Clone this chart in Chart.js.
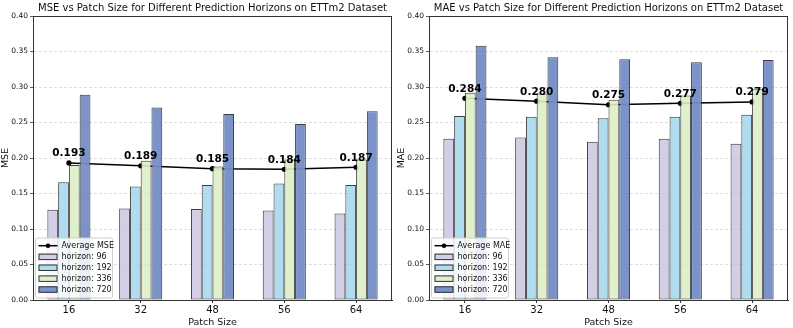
<!DOCTYPE html>
<html>
<head>
<meta charset="utf-8">
<script src="https://cdn.jsdelivr.net/npm/chart.js@4.4.1/dist/chart.umd.min.js"></script>
<style>
  body { margin: 0; background: #fff; }
  #left { position: absolute; left: 0; top: 0; width: 396px; height: 328px; }
  #right { position: absolute; left: 396px; top: 0; width: 397px; height: 328px; }
</style>
</head>
<body>
<div id="left"><canvas id="mseChart"></canvas></div>
<div id="right"><canvas id="maeChart"></canvas></div>
<script>
// Data
const patchSizes = ['16', '32', '48', '56', '64'];
const horizons = ['96', '192', '336', '720'];

const mse96  = [0.127, 0.129, 0.128, 0.126, 0.122];
const mse192 = [0.166, 0.160, 0.162, 0.164, 0.162];
const mse336 = [0.190, 0.196, 0.188, 0.198, 0.198];
const mse720 = [0.289, 0.271, 0.262, 0.248, 0.266];
const mseAvg = [0.193, 0.189, 0.185, 0.184, 0.187];

const mae96  = [0.227, 0.229, 0.223, 0.227, 0.220];
const mae192 = [0.259, 0.258, 0.256, 0.258, 0.261];
const mae336 = [0.292, 0.291, 0.282, 0.288, 0.297];
const mae720 = [0.358, 0.342, 0.339, 0.335, 0.338];
const maeAvg = [0.284, 0.280, 0.275, 0.277, 0.279];

const yTicks = [0, 0.05, 0.10, 0.15, 0.20, 0.25, 0.30, 0.35, 0.40];

const barColors = ['rgba(204,201,226,0.9)', 'rgba(166,216,236,0.9)', 'rgba(221,237,198,0.9)', 'rgba(116,141,198,0.95)'];
const FONT = '"DejaVu Sans", sans-serif';

// title centred over the plot area (like matplotlib)
const plotTitle = {
  id: 'plotTitle',
  afterDraw(chart, args, opts) {
    const { ctx, chartArea } = chart;
    ctx.save();
    ctx.font = '10px ' + FONT;
    ctx.fillStyle = '#111';
    ctx.textAlign = 'center';
    ctx.textBaseline = 'middle';
    ctx.fillText(opts.text, (chartArea.left + chartArea.right) / 2, 8);
    // box spines
    ctx.strokeStyle = '#333';
    ctx.lineWidth = 1;
    ctx.strokeRect(Math.round(chartArea.left) + 0.5, Math.round(chartArea.top) + 0.5,
      Math.round(chartArea.right - chartArea.left) - 1, Math.round(chartArea.bottom - chartArea.top));
    ctx.restore();
  }
};

// value labels above the average line points
const avgLabels = {
  id: 'avgLabels',
  afterDatasetsDraw(chart) {
    const { ctx } = chart;
    const meta = chart.getDatasetMeta(0);
    const data = chart.data.datasets[0].data;
    ctx.save();
    ctx.font = 'bold 10.5px ' + FONT;
    ctx.fillStyle = '#000';
    ctx.textAlign = 'center';
    ctx.textBaseline = 'bottom';
    meta.data.forEach((pt, i) => {
      ctx.fillText(data[i].toFixed(3), pt.x, pt.y - 4);
    });
    ctx.restore();
  }
};

// legend inside the lower-left corner of the axes
const insideLegend = {
  id: 'insideLegend',
  afterDatasetsDraw(chart) {
    const { ctx, chartArea } = chart;
    const w = 77, h = 60;
    const x = chartArea.left + 2.5;
    const y = chartArea.bottom - 2 - h;
    ctx.save();
    ctx.fillStyle = 'rgba(255,255,255,0.85)';
    ctx.strokeStyle = '#cfcfcf';
    ctx.lineWidth = 1;
    ctx.beginPath();
    ctx.roundRect(x, y, w, h, 2);
    ctx.fill();
    ctx.stroke();
    ctx.font = '8px ' + FONT;
    ctx.textBaseline = 'middle';
    ctx.textAlign = 'left';
    chart.data.datasets.forEach((ds, i) => {
      const cy = y + 7.7 + i * 10.9;
      if (ds.type === 'line') {
        ctx.strokeStyle = '#000';
        ctx.lineWidth = 1.5;
        ctx.beginPath();
        ctx.moveTo(x + 3, cy);
        ctx.lineTo(x + 22, cy);
        ctx.stroke();
        ctx.fillStyle = '#000';
        ctx.beginPath();
        ctx.arc(x + 12.5, cy, 2.3, 0, Math.PI * 2);
        ctx.fill();
      } else {
        ctx.fillStyle = ds.backgroundColor;
        ctx.strokeStyle = '#333';
        ctx.lineWidth = 1;
        ctx.fillRect(x + 3, cy - 3, 19, 6.5);
        ctx.strokeRect(x + 3.5, cy - 2.5, 18, 5.5);
      }
      ctx.fillStyle = '#111';
      ctx.fillText(ds.label, x + 26, cy + 0.5);
    });
    ctx.restore();
  }
};

function makeChart(id, metric, avg, series, padRight) {
  const datasets = [{
    type: 'line',
    label: 'Average ' + metric,
    data: avg,
    borderColor: '#000',
    backgroundColor: '#000',
    borderWidth: 1.5,
    pointRadius: 2.6,
    pointBackgroundColor: '#000',
    pointBorderWidth: 0,
    order: 10
  }];
  series.forEach((vals, i) => {
    datasets.push({
      type: 'bar',
      label: 'horizon: ' + horizons[i],
      data: vals,
      backgroundColor: barColors[i],
      borderColor: 'rgba(40,40,40,0.9)',
      borderWidth: 1,
      borderSkipped: false,
      categoryPercentage: 0.6,
      barPercentage: 1.0,
      order: 1
    });
  });

  return new Chart(document.getElementById(id), {
    data: { labels: patchSizes, datasets },
    options: {
      responsive: true,
      maintainAspectRatio: false,
      animation: false,
      layout: { padding: { top: 16, right: padRight, left: 0, bottom: 0 } },
      plugins: {
        legend: { display: false },
        tooltip: { enabled: false },
        plotTitle: { text: metric + ' vs Patch Size for Different Prediction Horizons on ETTm2 Dataset' }
      },
      scales: {
        x: {
          type: 'category',
          offset: true,
          grid: {
            offset: false,
            drawOnChartArea: false,
            drawTicks: true,
            tickLength: 3,
            tickColor: '#333'
          },
          border: { display: true, color: '#333', width: 1 },
          ticks: { color: '#111', font: { family: FONT, size: 10 }, padding: 1 },
          title: { display: true, text: 'Patch Size', color: '#111', font: { family: FONT, size: 9.5 }, padding: { top: 0, bottom: 0 } },
          afterFit(scale) { scale.height = 28; }
        },
        y: {
          min: 0,
          max: 0.40,
          afterBuildTicks(scale) { scale.ticks = yTicks.map(v => ({ value: v })); },
          grid: {
            color: 'rgba(200,200,200,0.75)',
            lineWidth: 0.8,
            drawTicks: true,
            tickLength: 3,
            tickColor: '#333',
            tickBorderDash: [1, 0]
          },
          border: { display: true, color: '#333', width: 1, dash: [3, 2] },
          ticks: {
            color: '#111',
            font: { family: FONT, size: 7.5 },
            padding: 2,
            callback: v => v.toFixed(2)
          },
          title: { display: true, text: metric, color: '#111', font: { family: FONT, size: 9.5 }, padding: { top: 0, bottom: 2 } },
          afterFit(scale) { scale.width = 33; }
        }
      }
    },
    plugins: [plotTitle, avgLabels, insideLegend]
  });
}

makeChart('mseChart', 'MSE', mseAvg, [mse96, mse192, mse336, mse720], 3);
makeChart('maeChart', 'MAE', maeAvg, [mae96, mae192, mae336, mae720], 5);
</script>
</body>
</html>
